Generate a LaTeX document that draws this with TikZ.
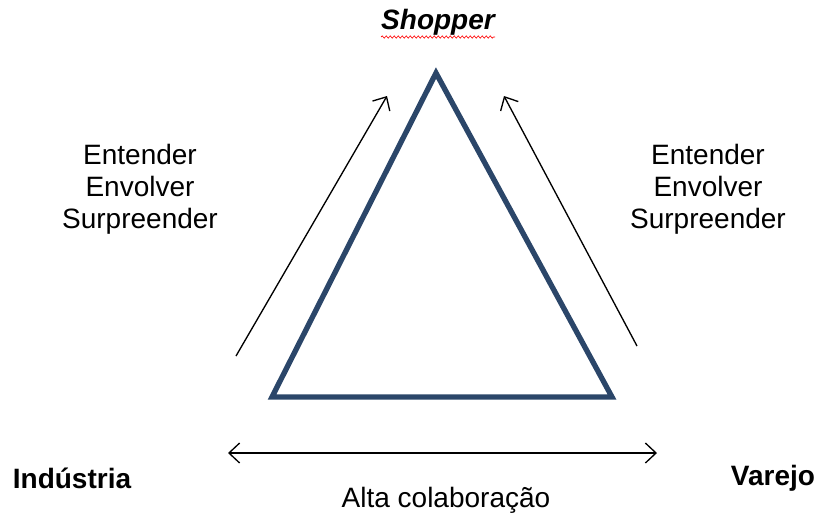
\documentclass[tikz,border=0pt]{standalone}
\usepackage{fontspec}
\setmainfont{Liberation Sans}
\usetikzlibrary{arrows.meta, positioning, decorations.pathmorphing}
\definecolor{triblue}{HTML}{2B4669}
\tikzset{
    lbl/.style={font=\fontsize{21}{24}\selectfont, align=center, inner sep=0pt},
    side/.style={font=\fontsize{21}{25}\selectfont\bfseries, inner sep=0pt},
    barb/.tip={Straight Barb[length=8pt, width=15pt, line width=1pt]},
    flow/.style={line width=1pt, -barb},
    both/.style={line width=1pt, barb-barb},
}
\begin{document}
\begin{tikzpicture}[x=0.75pt, y=-0.75pt]
        \useasboundingbox (0,0) rectangle (821,519);

        % Triangle (corners)
        \coordinate (top) at (436,73);
        \coordinate (bl) at (272,397);
        \coordinate (br) at (612,397);
        \draw[triblue, line width=4pt, line join=miter] (top) -- (br) -- (bl) -- cycle;

        % Shopper at the top
        \node[font=\fontsize{21}{25}\selectfont\bfseries\itshape, inner sep=0pt] (shopper) at (438,22) {Shopper};
        \draw[red, line width=0.5pt, decorate, decoration={snake, amplitude=0.8pt, segment length=3pt}]
            (381,37) -- (495,37);

        % Side texts
        \node[lbl] (lefttxt) at (140,189) {Entender\\Envolver\\Surpreender};
        \node[lbl] (righttxt) at (708,189) {Entender\\Envolver\\Surpreender};

        % Arrows towards the shopper
        \coordinate (la1) at (236,356);
        \coordinate (la2) at (387,96);
        \coordinate (ra1) at (637,346);
        \coordinate (ra2) at (504,96);
        \draw[flow] (la1) -- (la2);
        \draw[flow] (ra1) -- (ra2);

        % Bottom: industry / retail
        \node[side] (industria) at (72,478) {Indústria};
        \node[side] (varejo) at (773,478) {Varejo};
        \coordinate (ha1) at (228,453);
        \coordinate (ha2) at (657,453);
        \draw[both] (ha1) -- (ha2);
        \node[lbl] (colab) at (446,500) {Alta colaboração};
    \end{tikzpicture}
\end{document}
